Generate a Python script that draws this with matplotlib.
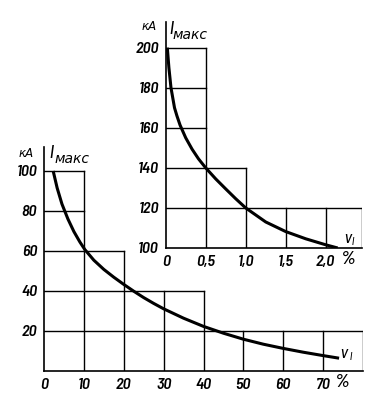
import matplotlib
matplotlib.use("Agg")
import matplotlib.pyplot as plt
from matplotlib import font_manager

names = {f.name for f in font_manager.fontManager.ttflist}
def pick(cands):
    for c in cands:
        if c in names:
            return [c, 'DejaVu Sans']
    return ['DejaVu Sans']
NUMFAM = pick(['Barlow Semi Condensed', 'Archivo Narrow', 'Liberation Sans Narrow'])
CYRFAM = pick(['Archivo Narrow', 'Liberation Sans Narrow'])

# ---- data: main chart (v_I in %, I_max in kA)
main_v = [2.3, 3.3, 4.5, 6, 7.5, 9, 10.25, 12.5, 15, 17.5, 20, 22.5, 25, 27.5, 30,
          35, 40, 45, 50, 55, 60, 65, 70, 74]
main_i = [100, 91.5, 83.5, 76, 69.7, 64.5, 60.7, 55.4, 50.8, 46.9, 43.3, 39.9, 36.7, 33.8, 31.1,
          26.4, 22.3, 18.9, 15.9, 13.4, 11.3, 9.4, 7.7, 6.4]
main_xticks = [0, 10, 20, 30, 40, 50, 60, 70]
main_xlabels = ['0', '10', '20', '30', '40', '50', '60', '70']
main_yticks = [20, 40, 60, 80, 100]
main_ylabels = ['20', '40', '60', '80', '100']
main_h = [(100, 10), (80, 10), (60, 20), (40, 40), (20, 80)]
main_vl = [(10, 100), (20, 60), (30, 40), (40, 40), (50, 20), (60, 20), (70, 20), (80, 20)]

# ---- data: inset chart
ins_v = [0.02, 0.04, 0.066, 0.11, 0.14, 0.18, 0.25, 0.33, 0.41, 0.5, 0.625, 0.75, 0.875,
         1.0, 1.25, 1.5, 1.75, 2.0, 2.15]
ins_i = [200, 190, 180, 170, 166, 161.3, 155, 149.3, 144.5, 140, 134.5, 129.5, 124.6,
         120, 113, 108.2, 104.6, 101.6, 100]
ins_xticks = [0, 0.5, 1.0, 1.5, 2.0]
ins_xlabels = ['0', '0,5', '1,0', '1,5', '2,0']
ins_yticks = [100, 120, 140, 160, 180, 200]
ins_ylabels = ['100', '120', '140', '160', '180', '200']
ins_h = [(200, 0.5), (180, 0.5), (160, 0.5), (140, 1.0), (120, 2.45)]
ins_vl = [(0.5, 200), (1.0, 140), (1.5, 120), (2.0, 120), (2.45, 120)]

W, H = 389, 404
fig = plt.figure(figsize=(W / 100, H / 100), dpi=100)

def frac(px0, px1, py_top, py_bot):
    return [px0 / W, 1 - py_bot / H, (px1 - px0) / W, (py_bot - py_top) / H]

tfont = dict(family=NUMFAM, style='italic', fontsize=11.5, weight=600)
pfont = dict(family=NUMFAM, style='italic', fontsize=13.5, weight=600)
cfont = dict(family=CYRFAM, style='italic')

def style(ax):
    for s in ['top', 'right']:
        ax.spines[s].set_visible(False)
    ax.spines['left'].set_linewidth(1.2)
    ax.spines['bottom'].set_linewidth(1.2)
    ax.tick_params(length=0, pad=5)
    ax.patch.set_alpha(0)

# main axes: x 0..80 -> px 44..363 ; y 0..111 -> px 371..149
ax = fig.add_axes(frac(44, 363, 147, 371))
ax.set_xlim(0, 80)
ax.set_ylim(0, 112)
style(ax)
for y, xe in main_h:
    ax.plot([0, xe], [y, y], color='black', lw=1.0)
for x, ye in main_vl:
    ax.plot([x, x], [0, ye], color='black', lw=1.0)
ax.plot(main_v, main_i, color='black', lw=2.2, solid_capstyle='butt', solid_joinstyle='round')
ax.set_xticks(main_xticks)
ax.set_xticklabels(main_xlabels, **tfont)
ax.set_yticks(main_yticks)
ax.set_yticklabels(main_ylabels, **tfont)
ax.text(74.8, -1.5, '%', ha='center', va='top', **pfont)
ax.text(-2.6, 108.7, 'кА', ha='right', va='center', fontsize=8.5, **cfont)
ax.text(1.3, 109, 'I', ha='left', va='center', fontsize=13, **cfont)
ax.text(2.6, 105.8, 'макс', ha='left', va='center', fontsize=10, **cfont)
ax.text(74.2, 8.8, 'v', ha='left', va='center', fontsize=12, **cfont)
ax.text(76.6, 6.8, 'I', ha='left', va='center', fontsize=7.5, **cfont)

# inset: x 0..2.45 -> px 165.7..362 ; y 100..213 -> px 248..22
ax2 = fig.add_axes(frac(165.7, 361.7, 22, 248))
ax2.set_xlim(0, 2.45)
ax2.set_ylim(100, 212.8)
style(ax2)
for y, xe in ins_h:
    ax2.plot([0, xe], [y, y], color='black', lw=1.0)
for x, ye in ins_vl:
    ax2.plot([x, x], [100, ye], color='black', lw=1.0)
ax2.plot(ins_v, ins_i, color='black', lw=2.2, solid_capstyle='butt', solid_joinstyle='round')
ax2.set_xticks(ins_xticks)
ax2.set_xticklabels(ins_xlabels, **tfont)
ax2.set_yticks(ins_yticks)
ax2.set_yticklabels(ins_ylabels, **tfont)
ax2.text(2.28, 98.5, '%', ha='center', va='top', **pfont)
ax2.text(-0.11, 210.3, 'кА', ha='right', va='center', fontsize=8.5, **cfont)
ax2.text(0.04, 209.5, 'I', ha='left', va='center', fontsize=13, **cfont)
ax2.text(0.08, 206.5, 'макс', ha='left', va='center', fontsize=10, **cfont)
ax2.text(2.23, 104.5, 'v', ha='left', va='center', fontsize=12, **cfont)
ax2.text(2.32, 103.0, 'I', ha='left', va='center', fontsize=7.5, **cfont)

fig.savefig('out.png', dpi=100)
